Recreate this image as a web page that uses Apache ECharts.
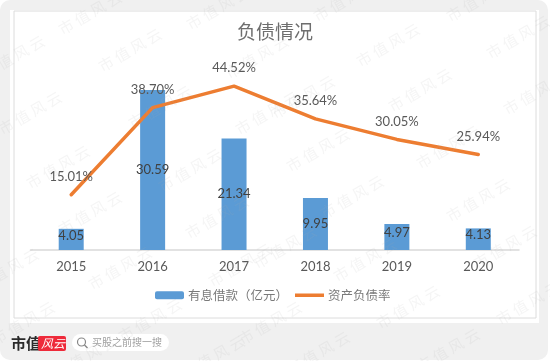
<!DOCTYPE html>
<html><head><meta charset="utf-8">
<style>html,body{margin:0;padding:0;background:#fff}#c{width:550px;height:361px}</style>
<script src="https://cdn.jsdelivr.net/npm/echarts@6/dist/echarts.min.js"></script></head>
<body><div id="c"></div>
<script>
const years = ['2015','2016','2017','2018','2019','2020'];
const debt = [4.05,30.59,21.34,9.95,4.97,4.13];
const ratio = [15.01,38.70,44.52,35.64,30.05,25.94];
const watermarkSpots = [[90,13],[218,8],[345,0],[478,0],[130,50],[13,57],[257,57],[388,45],[518,37],[30,113],[160,107],[267,113],[303,97],[420,90],[535,93],[58,167],[190,170],[318,150],[448,147],[90,213],[217,217],[352,197],[478,200],[7,270],[120,268],[240,265],[285,247],[365,260],[505,247],[23,323],[150,320],[270,323],[408,307],[528,303],[85,357],[213,357],[318,353],[448,350]];
const SANS='"Noto Sans CJK SC","Noto Sans",sans-serif', NUM='Lato,"Noto Sans",sans-serif';
const chart = echarts.init(document.getElementById('c'),null,{renderer:'canvas'});
const g = [
 {type:'rect',z:-10,shape:{x:0,y:0,width:548,height:360,r:10},style:{fill:'#f0f0f0'}},
 {type:'rect',z:-9,shape:{x:10,y:10,width:529,height:313},style:{fill:'#fff'}},
 {type:'rect',z:-8,shape:{x:14,y:11,width:522,height:307},style:{fill:'#fff',stroke:'#dcdcdc',lineWidth:1}},
 {type:'text',z:20,style:{x:11,y:336,text:'市值',font:'bold 15px "Noto Sans CJK SC",serif',fill:'#2a2a2a'}},
 {type:'rect',z:20,shape:{x:38,y:336,width:28,height:15,r:2},style:{fill:'#ee2a3a'}},
 {type:'text',z:21,style:{x:41,y:337,text:'风云',font:'italic 12px "Noto Sans CJK SC",serif',fill:'#fff'}},
 {type:'rect',z:20,shape:{x:72,y:334,width:97,height:17,r:8.5},style:{fill:'#fff'}},
 {type:'circle',z:21,shape:{cx:81.5,cy:342,r:4},style:{fill:'none',stroke:'#888',lineWidth:1.2}},
 {type:'line',z:21,shape:{x1:84.5,y1:345,x2:87.5,y2:348},style:{stroke:'#888',lineWidth:1.4}},
 {type:'text',z:21,style:{x:92,y:337.5,text:'买股之前搜一搜',font:'10px "Noto Sans CJK SC",sans-serif',fill:'#a0a0a0'}}
];
watermarkSpots.forEach(p=>g.push({type:'text',z:50,x:p[0],y:p[1],rotation:Math.PI/6,
  style:{text:'市 值 风 云',font:'15px "Noto Sans CJK SC",serif',fill:'rgba(170,170,170,0.12)',align:'center',verticalAlign:'middle'}}));
chart.setOption({
 animation:false,
 textStyle:{fontFamily:SANS},
 title:{text:'负债情况',left:'center',top:22,padding:0,itemGap:0,textStyle:{fontFamily:SANS,fontSize:19,fontWeight:'normal',color:'#6e6e6e'}},
 graphic:g,
 legend:{left:155,top:289,padding:0,itemWidth:29,itemHeight:8,itemGap:7,
   data:[{name:'有息借款（亿元）'},{name:'资产负债率',icon:'path://M0,0L0,0ZM0,2.25H29V5.75H0ZM0,8L0,8Z'}],
   textStyle:{fontFamily:SANS,fontSize:12.5,color:'#7a7a7a',padding:[0,0,0,-1]}},
 grid:{left:30.5,right:31,top:66,height:184,containLabel:false},
 xAxis:{type:'category',data:years,axisTick:{show:false},axisLine:{lineStyle:{color:'#d9d9d9',width:1.5}},
   axisLabel:{fontFamily:NUM,fontSize:13,color:'#595959',margin:10}},
 yAxis:[{type:'value',min:0,max:35.18,show:false,splitLine:{show:false}},{type:'value',min:0,max:50,show:false,splitLine:{show:false}}],
 series:[
  {name:'有息借款（亿元）',type:'bar',barWidth:25,yAxisIndex:0,itemStyle:{color:'#5b9bd5'},
   data:debt.map(v=>({value:v,label:{offset:[0,v<6?-4:0]}})),
   label:{show:true,position:'inside',fontFamily:NUM,fontSize:13,color:'#404040',formatter:p=>p.value.toFixed(2)}},
  {name:'资产负债率',type:'line',yAxisIndex:1,data:ratio,symbol:'circle',symbolSize:1,showSymbol:true,showAllSymbol:true,z:5,
   lineStyle:{color:'#ed7d31',width:3.5,cap:'round'},itemStyle:{color:'#ed7d31'},
   label:{show:true,position:'top',distance:11,fontFamily:NUM,fontSize:13,color:'#595959',formatter:p=>p.value.toFixed(2)+'%'}}
 ]
});
</script></body></html>
